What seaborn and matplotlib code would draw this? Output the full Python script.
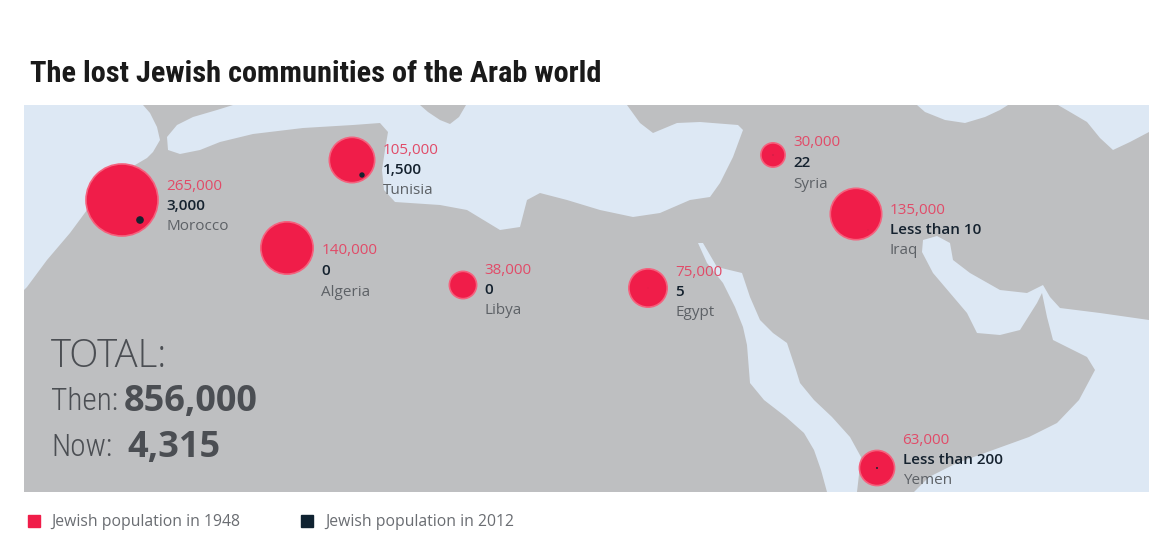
import os
import matplotlib
matplotlib.use("Agg")
import matplotlib.pyplot as plt
from matplotlib.patches import Polygon, Rectangle
from matplotlib.lines import Line2D
from matplotlib import font_manager
import numpy as np
import pandas as pd
import seaborn as sns

countries = ["Morocco", "Algeria", "Tunisia", "Libya", "Egypt", "Syria", "Iraq", "Yemen"]
pop_1948 = [265000, 140000, 105000, 38000, 75000, 30000, 135000, 63000]
labels_1948 = ["265,000", "140,000", "105,000", "38,000", "75,000", "30,000", "135,000", "63,000"]
pop_2012 = [3000, 0, 1500, 0, 5, 22, 10, 200]
labels_2012 = ["3,000", "0", "1,500", "0", "5", "22", "Less than 10", "Less than 200"]
# location of each country on the drawn map (pixel grid of the picture)
map_x = [122, 287, 352, 463, 648, 773, 856, 877]
map_y = [200, 248, 160, 285, 288, 155, 214, 468]
# location of the remaining 2012 community
now_x = [140, 287, 362, 463, 648, 773, 868, 877]
now_y = [220, 248, 175, 285, 288, 155, 230, 468]

total_then = "856,000"
total_now = "4,315"
title = "The lost Jewish communities of the Arab world"
legend_labels = ["Jewish population in 1948", "Jewish population in 2012"]

# layout: vertical shift of the label block relative to the circle centre
label_dy = [-14, 3, -10, -15, -16, -12, -4, -28]

RED = "#f01d49"
RED_TXT = "#e14b68"
DARK = "#15222f"
GREY_TXT = "#5d6166"
TOTAL_TXT = "#4b4e53"
SEA = "#dde8f4"
LAND = "#bebfc1"

sns.set_theme(style="white")
plt.rcParams["font.family"] = ["Open Sans", "DejaVu Sans"]


def pick_font(files, fallback_family, weight):
    have = {os.path.basename(f.fname).lower(): f.fname for f in font_manager.fontManager.ttflist}
    for name in files:
        if name in have:
            return font_manager.FontProperties(fname=have[name])
    return font_manager.FontProperties(family=fallback_family, weight=weight)


title_fp = pick_font(["liberationsansnarrow-bold.ttf", "robotocondensed-bold.ttf",
                      "opensans_condensed-bold.ttf", "opensanscondensed-bold.ttf"],
                     ["Liberation Sans", "DejaVu Sans"], "bold")
cond_fp = pick_font(["opensans_condensed-light.ttf", "opensanscondensed-light.ttf",
                     "opensans-condensedlight.ttf", "robotocondensed-light.ttf",
                     "liberationsansnarrow-regular.ttf"],
                    ["Open Sans", "DejaVu Sans"], "light")
light_fp = pick_font(["opensans-light.ttf"], ["Open Sans", "DejaVu Sans"], "light")

df = pd.DataFrame({"country": countries, "x": map_x, "y": map_y, "then": pop_1948,
                   "nx": now_x, "ny": now_y, "now": pop_2012})

fig = plt.figure(figsize=(11.72, 5.55), dpi=100)
ax = fig.add_axes([0, 0, 1, 1])
ax.set_xlim(0, 1172)
ax.set_ylim(555, 0)
ax.axis("off")
renderer = fig.canvas.get_renderer()

# map panel: land everywhere, seas on top
ax.add_patch(Rectangle((24, 105), 1125, 387, facecolor=LAND, edgecolor="none", zorder=0))
seas = [
    # Atlantic
    [(24, 105), (143, 105), (150, 113), (157, 127), (160, 140), (153, 152), (147, 158), (130, 168),
     (107, 183), (87, 210), (70, 233), (47, 260), (27, 287), (24, 290)],
    # Mediterranean
    [(233, 105), (217, 110), (193, 117), (177, 125), (167, 137), (168, 150), (180, 154), (200, 150),
     (220, 142), (253, 134), (303, 128), (353, 125), (380, 123), (388, 132), (385, 150), (382, 170),
     (384, 190), (395, 202), (440, 205), (467, 210), (500, 230), (520, 227), (527, 200), (540, 193),
     (567, 200), (600, 210), (633, 217), (660, 213), (690, 200), (710, 197), (720, 183), (733, 157),
     (743, 130), (738, 125), (700, 122), (677, 123), (653, 133), (640, 123), (627, 105)],
    # Black Sea
    [(917, 105), (925, 112), (945, 120), (965, 123), (985, 117), (1000, 110), (1008, 105)],
    # Caspian
    [(1058, 105), (1070, 112), (1087, 122), (1100, 138), (1113, 150), (1130, 142), (1149, 132), (1149, 105)],
    # Red Sea
    [(698, 243), (707, 263), (723, 283), (735, 307), (743, 327), (747, 345), (750, 383), (764, 400),
     (786, 417), (804, 433), (814, 450), (821, 470), (827, 492), (857, 492), (861, 457), (850, 437),
     (832, 417), (814, 400), (800, 383), (796, 370), (792, 358), (787, 343), (773, 333), (760, 320),
     (750, 297), (742, 273), (717, 267), (703, 243)],
    # Persian Gulf and Arabian Sea
    [(1149, 320), (1100, 313), (1060, 308), (1050, 297), (1043, 285), (1027, 293), (1000, 290),
     (970, 273), (953, 260), (950, 243), (937, 236), (923, 240), (922, 252), (933, 273), (950, 293),
     (967, 313), (977, 333), (1000, 335), (1020, 330), (1037, 303), (1042, 293), (1047, 317),
     (1053, 340), (1067, 347), (1087, 357), (1095, 370), (1079, 400), (1057, 423), (1029, 437),
     (993, 450), (957, 463), (929, 477), (914, 492), (1149, 492)],
]
for pts in seas:
    ax.add_patch(Polygon(pts, closed=True, facecolor=SEA, edgecolor="none", zorder=1))
# Sicily / Italy tip
ax.add_patch(Polygon([(420, 105), (466, 105), (459, 117), (450, 124), (440, 120), (428, 112)],
                     closed=True, facecolor=LAND, edgecolor="none", zorder=1))

# circles: area proportional to population (Morocco about 72 px across)
s_max = (72 * 72 / 100) ** 2
norm = (0, max(pop_1948))
sns.scatterplot(data=df, x="x", y="y", size="then", sizes=(0, s_max), size_norm=norm,
                color=RED, edgecolor="#f5617d", linewidth=1.2, alpha=1, legend=False, ax=ax, zorder=3)
sns.scatterplot(data=df[df["now"] > 0], x="nx", y="ny", size="now", sizes=(0, s_max), size_norm=norm,
                color=DARK, edgecolor="none", linewidth=0, alpha=1, legend=False, ax=ax, zorder=4)

# labels next to each circle
for i, c in enumerate(countries):
    r_px = 36 * np.sqrt(pop_1948[i] / max(pop_1948))
    tx = map_x[i] + r_px + 8
    ty = map_y[i] + label_dy[i]
    ax.text(tx, ty, labels_1948[i], color=RED_TXT, fontsize=11, va="center", ha="left", zorder=5)
    ax.text(tx, ty + 20, labels_2012[i], color=DARK, fontsize=11, fontweight="semibold",
            va="center", ha="left", zorder=5)
    ax.text(tx, ty + 41, c, color=GREY_TXT, fontsize=11, va="center", ha="left", zorder=5)


def fit_text(x, y, s, fp, size, width, **kw):
    """place a text and shrink it until it is no wider than `width` pixels"""
    fp = fp.copy()
    fp.set_size(size)
    t = ax.text(x, y, s, fontproperties=fp, **kw)
    w = t.get_window_extent(renderer).width
    if w > width:
        fp.set_size(size * width / w)
        t.set_fontproperties(fp)
    return t


# totals
fit_text(51, 357, "TOTAL:", light_fp, 27.5, 124, color=TOTAL_TXT, va="center", ha="left")
t_then = fit_text(51, 402, "Then:", cond_fp, 26, 67, color=TOTAL_TXT, va="center", ha="left")
ax.text(51, 448, "Now:", fontproperties=t_then.get_fontproperties(), color=TOTAL_TXT,
        va="center", ha="left")
ax.text(124, 402, total_then, color=TOTAL_TXT, fontsize=26, fontweight="bold", va="center", ha="left")
ax.text(127, 448, total_now, color=TOTAL_TXT, fontsize=26, fontweight="bold", va="center", ha="left")

# title
fit_text(30, 74, title, title_fp, 22, 572, color="#1a1a1a", va="center", ha="left")

# legend
handles = [Line2D([], [], marker="s", linestyle="", markersize=8, color=RED),
           Line2D([], [], marker="s", linestyle="", markersize=8, color="#0f2231")]
ax.legend(handles, legend_labels, loc="center left", bbox_to_anchor=(14 / 1172, 1 - 522 / 555),
          ncol=2, frameon=False, fontsize=11.3, handlelength=0.7, handletextpad=0.8,
          columnspacing=3.9, labelcolor="#6a6d72")

fig.savefig("out.png", dpi=100, facecolor="white")
